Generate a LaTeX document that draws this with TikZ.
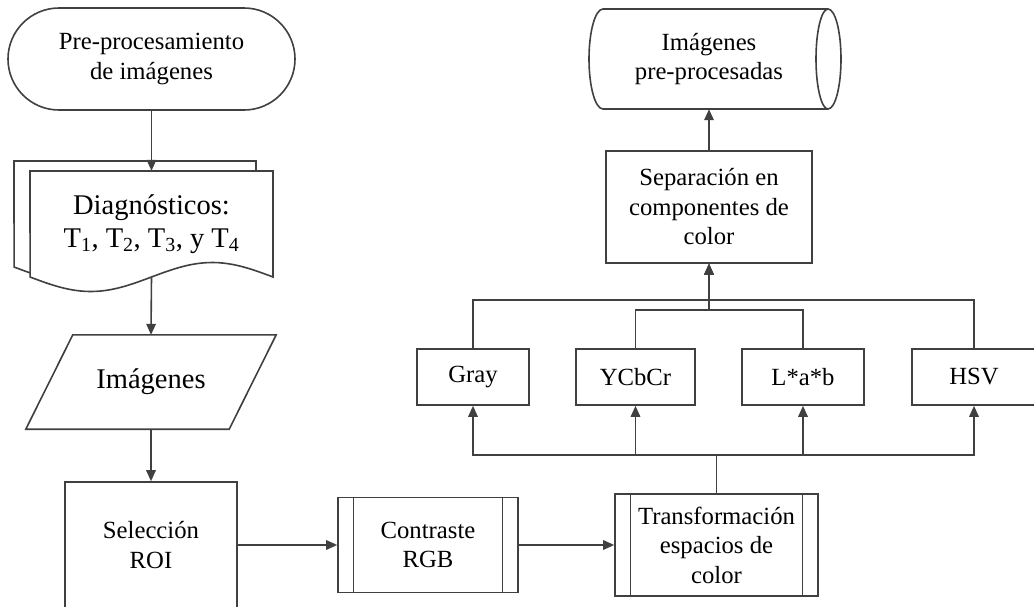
\documentclass[tikz,border=0pt]{standalone}
\usepackage{fontspec}
\setmainfont{Liberation Serif}
\usetikzlibrary{arrows.meta,shapes.misc,calc}
\definecolor{edge}{HTML}{404040}
\begin{document}
\begin{tikzpicture}[x=1pt,y=-1pt,
  line/.style={draw=edge,line width=1.6pt},
  flow/.style={line,-{Triangle[length=11pt,width=9.5pt]}},
  txt/.style={font=\fontsize{24.7pt}{29.5pt}\selectfont,align=center,inner sep=0pt},
  bigtxt/.style={font=\fontsize{28.5pt}{33pt}\selectfont,align=center,inner sep=0pt},
  procbox/.style={txt,line,rectangle},
  colorbox/.style={txt,line,rectangle,minimum height=56pt},
  subproc/.style={txt,line,rectangle,
    path picture={\draw[edge,line width=1.6pt]
      ([xshift=15.5pt]path picture bounding box.north west) -- ([xshift=15.5pt]path picture bounding box.south west)
      ([xshift=-15.5pt]path picture bounding box.north east) -- ([xshift=-15.5pt]path picture bounding box.south east);}}
]
\useasboundingbox (0,0) rectangle (1034,606);
\clip (0,0) rectangle (1034,606);

% start terminator
\node[txt,line,rounded rectangle,minimum width=287pt,minimum height=102pt] (start) at (151.5,59) {Pre-procesamiento\\de imágenes};

% stacked documents
\path[line,fill=white] (14,161) -- (256,161) -- (256,267)
  -- plot[domain=0:1,samples=50] ({256-242*\x},{267-14.5*sin(360*\x)}) -- cycle;
\path[line,fill=white] (30,171) -- (273,171) -- (273,277)
  -- plot[domain=0:1,samples=50] ({273-243*\x},{277-14.5*sin(360*\x)}) -- cycle;
\node[bigtxt,minimum width=243pt,minimum height=106pt] (diag) at (151.5,224)
  {Diagnósticos:\\T\textsubscript{1}, T\textsubscript{2}, T\textsubscript{3}, y T\textsubscript{4}};

% input data (parallelogram)
\node[bigtxt,minimum width=203pt,minimum height=94pt] (imgs) at (151,382) {Imágenes};
\draw[line] ($(imgs.north west)+(23.5,0)$) -- ($(imgs.north east)+(23.5,0)$)
  -- ($(imgs.south east)+(-23.5,0)$) -- ($(imgs.south west)+(-23.5,0)$) -- cycle;

% processing chain
\node[procbox,minimum width=172pt,minimum height=126pt] (roi) at (151,545) {Selección\\ROI};
\node[subproc,minimum width=180pt,minimum height=95pt] (rgb) at (428,545) {Contraste\\RGB};
\node[subproc,minimum width=203pt,minimum height=102pt] (trans) at (716.5,545) {Transformación\\espacios de\\color};

% colour spaces
\node[colorbox,minimum width=112pt] (gray) at (473,377) {Gray};
\node[colorbox,minimum width=119pt] (ycbcr) at (635.5,377) {YCbCr};
\node[colorbox,minimum width=122pt] (lab) at (803,377) {L*a*b};
\node[colorbox,minimum width=124pt] (hsv) at (974,377) {HSV};

% separation and stored output
\node[procbox,minimum width=206pt,minimum height=112pt] (sep) at (709,207) {Separación en\\componentes de\\color};
\node[txt,minimum width=225pt,minimum height=100pt] (out) at (709,59) {Imágenes\\pre-procesadas};
\draw[line] (603,9) -- (828,9) arc[start angle=90,end angle=-90,x radius=13pt,y radius=50pt]
  -- (603,109) arc[start angle=270,end angle=90,x radius=14pt,y radius=50pt] -- cycle;
\draw[line] (828,9) arc[start angle=90,end angle=270,x radius=12pt,y radius=50pt];

% connectors
\draw[flow] (start.south) -- (diag.north);
\draw[flow] (diag.south) -- (imgs.north);
\draw[flow] (imgs.south) -- (roi.north);
\draw[flow] (roi.east) -- (rgb.west);
\draw[flow] (rgb.east) -- (trans.west);

\draw[flow] (trans.north) -- ++(0,-38) -| (gray.south);
\draw[flow] (trans.north) -- ++(0,-38) -| (ycbcr.south);
\draw[flow] (trans.north) -- ++(0,-38) -| (lab.south);
\draw[flow] (trans.north) -- ++(0,-38) -| (hsv.south);

\draw[flow] (gray.north) -- ++(0,-48) -| (sep.south);
\draw[flow] (hsv.north) -- ++(0,-48) -| (sep.south);
\draw[flow] (ycbcr.north) -- ++(0,-38) -| (sep.south);
\draw[flow] (lab.north) -- ++(0,-38) -| (sep.south);

\draw[flow] (sep.north) -- (out.south);
\end{tikzpicture}
\end{document}
